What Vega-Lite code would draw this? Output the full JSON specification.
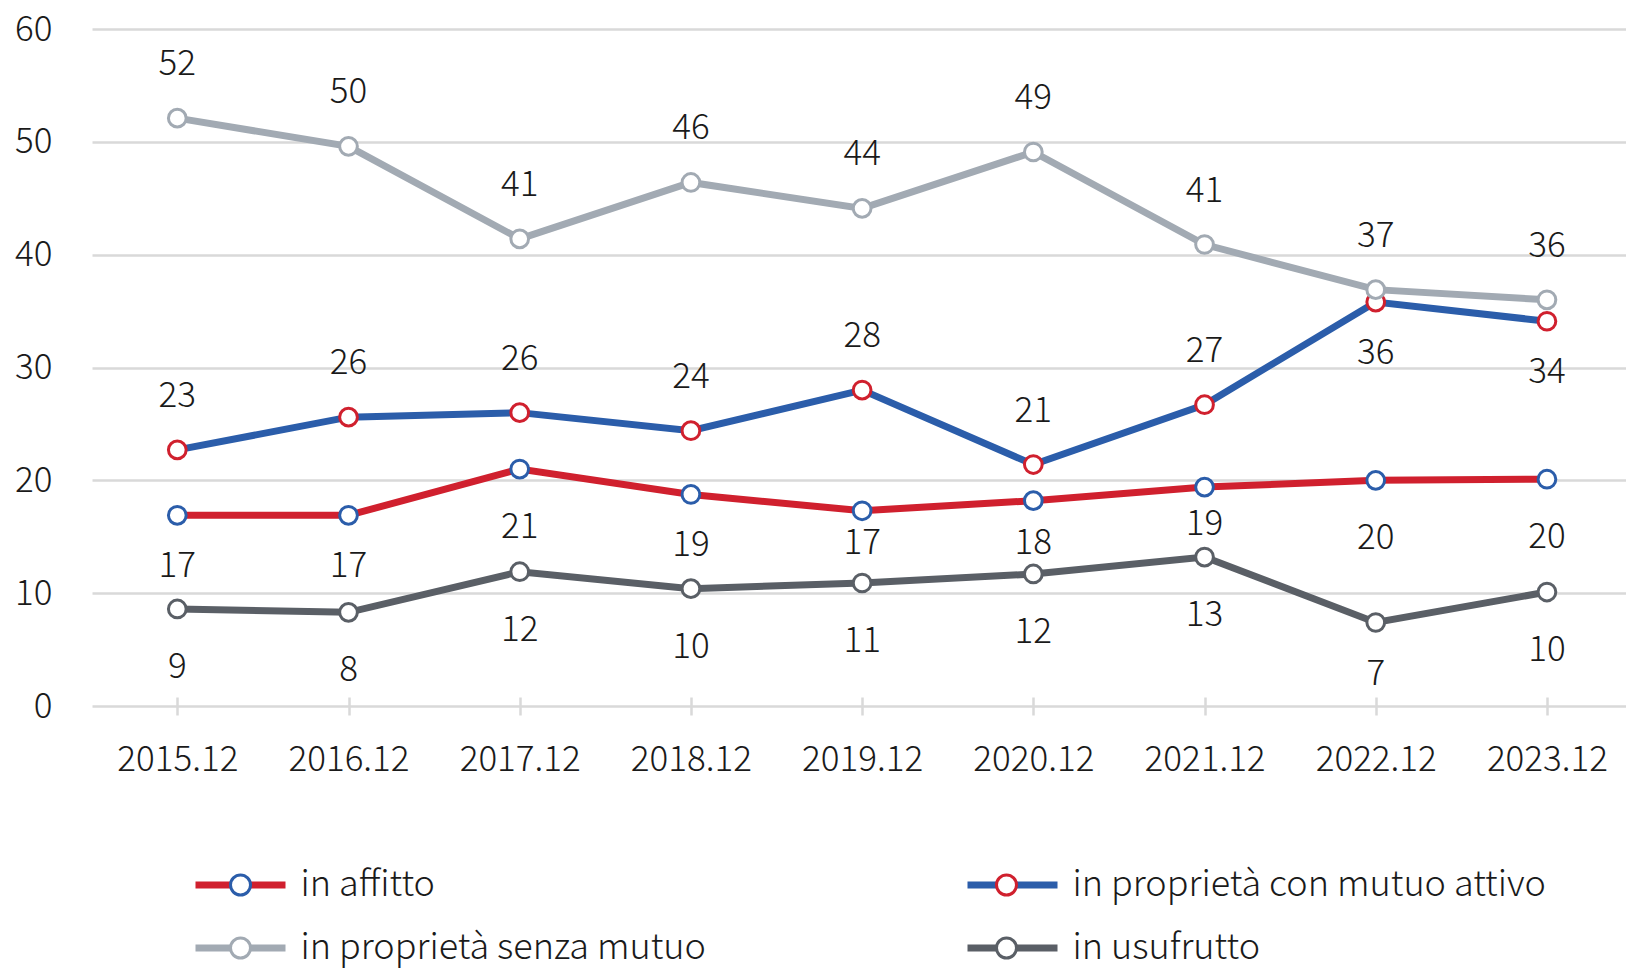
{
  "$schema": "https://vega.github.io/schema/vega-lite/v6.json",
  "width": 1534,
  "height": 677,
  "autosize": {"type": "none"},
  "padding": {"left": 92, "top": 29, "right": 0, "bottom": 262},
  "background": "white",
  "config": {
    "view": {"stroke": null},
    "font": "Noto Sans CJK SC",
    "axis": {"labelFont": "Noto Sans CJK SC", "labelFontWeight": 300, "labelFontSize": 35, "labelColor": "#1a1a1a"},
    "legend": {"labelFont": "Noto Sans CJK SC", "labelFontWeight": 300, "labelFontSize": 36, "labelColor": "#1a1a1a"},
    "text": {"font": "Noto Sans CJK SC", "fontWeight": 300, "fontSize": 35, "color": "#1a1a1a"}
  },
  "data": {
    "values": [
      {"anno": "2015.12", "serie": "in affitto", "valore": 16.9},
      {"anno": "2016.12", "serie": "in affitto", "valore": 16.9},
      {"anno": "2017.12", "serie": "in affitto", "valore": 21.0},
      {"anno": "2018.12", "serie": "in affitto", "valore": 18.75},
      {"anno": "2019.12", "serie": "in affitto", "valore": 17.3},
      {"anno": "2020.12", "serie": "in affitto", "valore": 18.2},
      {"anno": "2021.12", "serie": "in affitto", "valore": 19.4},
      {"anno": "2022.12", "serie": "in affitto", "valore": 20.0},
      {"anno": "2023.12", "serie": "in affitto", "valore": 20.1},
      {"anno": "2015.12", "serie": "in proprietà con mutuo attivo", "valore": 22.7},
      {"anno": "2016.12", "serie": "in proprietà con mutuo attivo", "valore": 25.6},
      {"anno": "2017.12", "serie": "in proprietà con mutuo attivo", "valore": 26.0},
      {"anno": "2018.12", "serie": "in proprietà con mutuo attivo", "valore": 24.4},
      {"anno": "2019.12", "serie": "in proprietà con mutuo attivo", "valore": 28.0},
      {"anno": "2020.12", "serie": "in proprietà con mutuo attivo", "valore": 21.4},
      {"anno": "2021.12", "serie": "in proprietà con mutuo attivo", "valore": 26.7},
      {"anno": "2022.12", "serie": "in proprietà con mutuo attivo", "valore": 35.8},
      {"anno": "2023.12", "serie": "in proprietà con mutuo attivo", "valore": 34.1},
      {"anno": "2015.12", "serie": "in usufrutto", "valore": 8.6},
      {"anno": "2016.12", "serie": "in usufrutto", "valore": 8.3},
      {"anno": "2017.12", "serie": "in usufrutto", "valore": 11.9},
      {"anno": "2018.12", "serie": "in usufrutto", "valore": 10.4},
      {"anno": "2019.12", "serie": "in usufrutto", "valore": 10.9},
      {"anno": "2020.12", "serie": "in usufrutto", "valore": 11.7},
      {"anno": "2021.12", "serie": "in usufrutto", "valore": 13.2},
      {"anno": "2022.12", "serie": "in usufrutto", "valore": 7.4},
      {"anno": "2023.12", "serie": "in usufrutto", "valore": 10.1},
      {"anno": "2015.12", "serie": "in proprietà senza mutuo", "valore": 52.1},
      {"anno": "2016.12", "serie": "in proprietà senza mutuo", "valore": 49.6},
      {"anno": "2017.12", "serie": "in proprietà senza mutuo", "valore": 41.4},
      {"anno": "2018.12", "serie": "in proprietà senza mutuo", "valore": 46.4},
      {"anno": "2019.12", "serie": "in proprietà senza mutuo", "valore": 44.1},
      {"anno": "2020.12", "serie": "in proprietà senza mutuo", "valore": 49.1},
      {"anno": "2021.12", "serie": "in proprietà senza mutuo", "valore": 40.9},
      {"anno": "2022.12", "serie": "in proprietà senza mutuo", "valore": 36.9},
      {"anno": "2023.12", "serie": "in proprietà senza mutuo", "valore": 36.0}
    ]
  },
  "encoding": {
    "x": {
      "field": "anno", "type": "ordinal", "sort": null,
      "scale": {"type": "point", "padding": 0.48, "align": 0.519},
      "axis": {"title": null, "domain": false, "grid": false, "ticks": true, "tickSize": 18, "tickColor": "#D9D9D9", "tickWidth": 2.5, "offset": -9, "labelPadding": 27, "labelAngle": 0}
    },
    "y": {
      "field": "valore", "type": "quantitative",
      "scale": {"domain": [0, 60], "nice": false},
      "axis": {"title": null, "values": [0, 10, 20, 30, 40, 50, 60], "domain": false, "ticks": false, "grid": true, "gridColor": "#D9D9D9", "gridWidth": 2.5, "labelPadding": 40}
    }
  },
  "layer": [
    {
      "mark": {"type": "line", "strokeWidth": 7},
      "encoding": {
        "color": {
          "field": "serie", "type": "nominal",
          "sort": ["in affitto", "in proprietà senza mutuo", "in proprietà con mutuo attivo", "in usufrutto"],
          "scale": {"range": ["#D0202E", "#A2AAB3", "#2B5DAA", "#5A5F66"]},
          "legend": {"orient": "none", "legendX": 103, "legendY": 838, "columns": 2, "columnPadding": 247, "rowPadding": 27, "symbolType": "M-9,0L9,0", "symbolSize": 100, "symbolStrokeWidth": 7, "symbolOffset": 27.5, "labelOffset": 42, "labelLimit": 1000, "title": null, "padding": 0}
        }
      }
    },
    {
      "mark": {"type": "point", "shape": "circle", "filled": true, "fill": "white", "size": 314, "strokeWidth": 3, "opacity": 1},
      "encoding": {
        "stroke": {
          "field": "serie", "type": "nominal",
          "scale": {"domain": ["in affitto", "in proprietà senza mutuo", "in proprietà con mutuo attivo", "in usufrutto"], "range": ["#2B5DAA", "#A2AAB3", "#D0202E", "#5A5F66"]},
          "legend": {"orient": "none", "legendX": 103, "legendY": 838, "columns": 2, "columnPadding": 247, "rowPadding": 27, "symbolType": "M-9.4,0M9.4,0M2,0A2,2 0 1,1 -2,0A2,2 0 1,1 2,0Z", "symbolSize": 100, "symbolStrokeWidth": 3, "symbolFillColor": "white", "symbolOffset": 27.5, "labelOffset": 42, "labelLimit": 1000, "labelOpacity": 0, "title": null, "padding": 0}
        }
      }
    },
    {
      "transform": [{"filter": "datum.serie == 'in proprietà senza mutuo' || (datum.serie == 'in proprietà con mutuo attivo' && datum.anno != '2022.12' && datum.anno != '2023.12')"}],
      "mark": {"type": "text", "baseline": "middle", "align": "center", "dy": -54},
      "encoding": {"text": {"field": "valore", "type": "quantitative", "format": ".0f"}}
    },
    {
      "transform": [{"filter": "(datum.serie == 'in usufrutto' && datum.anno != '2022.12') || (datum.serie == 'in affitto' && (datum.anno == '2017.12' || datum.anno == '2022.12' || datum.anno == '2023.12'))"}],
      "mark": {"type": "text", "baseline": "middle", "align": "center", "dy": 58},
      "encoding": {"text": {"field": "valore", "type": "quantitative", "format": ".0f"}}
    },
    {
      "transform": [{"filter": "(datum.serie == 'in usufrutto' && datum.anno == '2022.12') || (datum.serie == 'in proprietà con mutuo attivo' && (datum.anno == '2022.12' || datum.anno == '2023.12')) || (datum.serie == 'in affitto' && (datum.anno == '2015.12' || datum.anno == '2016.12' || datum.anno == '2018.12'))"}],
      "mark": {"type": "text", "baseline": "middle", "align": "center", "dy": 51},
      "encoding": {"text": {"field": "valore", "type": "quantitative", "format": ".0f"}}
    },
    {
      "transform": [{"filter": "datum.serie == 'in affitto' && datum.anno == '2019.12'"}],
      "mark": {"type": "text", "baseline": "middle", "align": "center", "dy": 32},
      "encoding": {"text": {"field": "valore", "type": "quantitative", "format": ".0f"}}
    },
    {
      "transform": [{"filter": "datum.serie == 'in affitto' && datum.anno == '2020.12'"}],
      "mark": {"type": "text", "baseline": "middle", "align": "center", "dy": 42},
      "encoding": {"text": {"field": "valore", "type": "quantitative", "format": ".0f"}}
    },
    {
      "transform": [{"filter": "datum.serie == 'in affitto' && datum.anno == '2021.12'"}],
      "mark": {"type": "text", "baseline": "middle", "align": "center", "dy": 37},
      "encoding": {"text": {"field": "valore", "type": "quantitative", "format": ".0f"}}
    }
  ]
}
